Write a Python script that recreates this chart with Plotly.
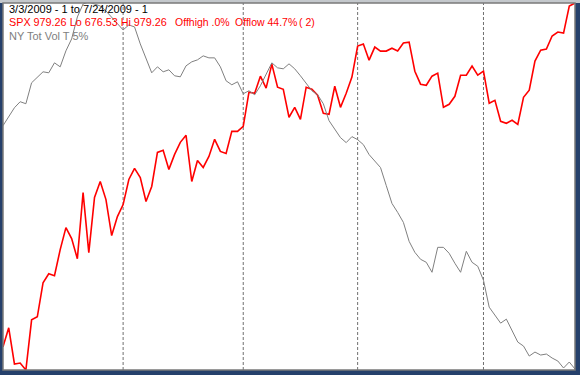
import plotly.graph_objects as go

# trading-day index 0..100 (3/3/2009 .. 7/24/2009)
days = list(range(101))

spx = [695.6, 711.3, 681.5, 682.3, 676.53, 717.9, 720.4, 748.5, 755.9, 754.3,
       775.8, 794.0, 784.9, 768.3, 822.9, 773.3, 818.8, 832.0, 817.1, 787.4,
       803.1, 813.0, 833.7, 842.8, 835.3, 815.5, 827.9, 856.0, 857.7, 842.0,
       854.4, 864.3, 870.1, 832.0, 849.4, 843.6, 852.7, 866.8, 856.8, 855.2,
       873.4, 873.4, 877.5, 905.7, 904.8, 918.9, 909.0, 928.8, 909.8, 908.1,
       885.0, 893.2, 883.3, 909.8, 908.1, 903.2, 888.3, 887.5, 910.6, 893.2,
       904.8, 918.1, 943.7, 945.4, 932.1, 942.9, 939.6, 939.6, 942.0, 939.6,
       946.2, 947.0, 923.0, 912.3, 911.4, 918.9, 921.4, 893.2, 895.7, 902.3,
       919.7, 919.7, 927.2, 919.7, 923.0, 896.6, 899.0, 881.7, 880.0, 882.5,
       879.2, 901.5, 907.3, 931.3, 940.4, 941.2, 952.0, 955.3, 954.4, 976.8,
       979.26]

nyvol = [245, 254, 263, 269, 267, 288, 294, 299, 298, 308,
         304, 320, 332, 354, 367, 369, 367, 365, 360, 354,
         348, 341, 346, 344, 327, 312, 298, 304, 299, 301,
         295, 294, 305, 309, 311, 315, 313, 313, 304, 290,
         286, 289, 277, 280, 276, 285, 297, 308, 303, 302,
         307, 302, 295, 288, 280, 276, 267, 250, 242, 233,
         228, 234, 231, 226, 216, 210, 203, 185, 167, 158,
         148, 129, 118, 111, 108, 98, 123, 123, 117, 107,
         98, 119, 108, 104, 90, 63, 55, 47, 51, 39,
         28, 24, 14, 18, 15, 16, 12, 9, 2, 8,
         1]

month_starts = [21, 42, 62, 84]

title_line = "3/3/2009 - 1 to 7/24/2009 - 1"
spx_parts = ["SPX 979.26 Lo 676.53 Hi 979.26", "Offhigh .0%", "Offlow 44.7%", "( 2)"]
vol_line = "NY Tot Vol T 5%"

fig = go.Figure()
fig.add_trace(go.Scatter(x=days, y=nyvol, mode="lines", yaxis="y2",
                         line=dict(color="#808080", width=1), hoverinfo="skip"))
fig.add_trace(go.Scatter(x=days, y=spx, mode="lines",
                         line=dict(color="#ff0000", width=1.6), hoverinfo="skip"))

for m in month_starts:
    fig.add_shape(type="line", xref="x", yref="paper", x0=m, x1=m, y0=0, y1=1,
                  line=dict(color="#707070", width=1, dash="3px,2px"), layer="below")

H = 367.0
W = 572.0

# window frame
fig.add_shape(type="rect", xref="paper", yref="paper",
              x0=-3 / W, x1=1 + 5 / W, y0=1, y1=1 + 3 / H,
              line=dict(width=0), fillcolor="#c4c8cc", layer="below")
fig.add_shape(type="rect", xref="paper", yref="paper", x0=0, x1=1, y0=0, y1=1,
              line=dict(color="#7a7a7a", width=1.5))


def py(p):
    return 1 - (p - 3) / H


def px(p):
    return (p - 3) / W


fig.add_annotation(text=title_line, xref="paper", yref="paper", x=px(7), y=py(9),
                   xanchor="left", yanchor="middle", showarrow=False,
                   font=dict(family="Arial", size=11, color="#000000"))
for part, xp, fs in zip(spx_parts, [7, 173, 233, 297], [10.8, 10.5, 10.5, 10.5]):
    fig.add_annotation(text=part, xref="paper", yref="paper", x=px(xp), y=py(22.5),
                       xanchor="left", yanchor="middle", showarrow=False,
                       font=dict(family="Arial", size=fs, color="#ff0000"))
fig.add_annotation(text=vol_line, xref="paper", yref="paper", x=px(7), y=py(35.5),
                   xanchor="left", yanchor="middle", showarrow=False,
                   font=dict(family="Arial", size=11, color="#808080"))

fig.update_layout(
    width=580, height=375,
    margin=dict(l=3, r=5, t=3, b=5),
    paper_bgcolor="#25406b",
    plot_bgcolor="#ffffff",
    showlegend=False,
    xaxis=dict(range=[0, 100], visible=False, fixedrange=True),
    yaxis=dict(range=[676.53, 979.26], visible=False, fixedrange=True),
    yaxis2=dict(range=[0, 368], visible=False, overlaying="y", fixedrange=True),
)

fig.write_html("out.html", config={"displayModeBar": False})
